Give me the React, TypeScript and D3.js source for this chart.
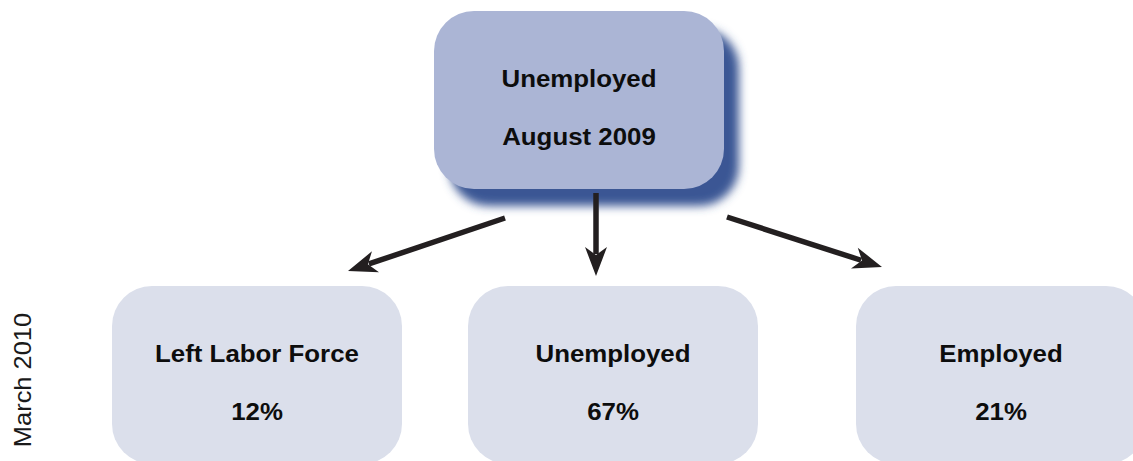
import React from "react";
import * as d3 from "d3";

// ---- data ----
const sourceLabel: string[] = ["Unemployed", "August 2009"];
const categories: string[] = ["Left Labor Force", "Unemployed", "Employed"];
const shares: number[] = [12, 67, 21];
const sideLabel = "March 2010";

// ---- layout ----
const W = 1133;
const H = 461;
const BOX_W = 290;
const BOX_H = 178;
const RADIUS = 40;
const topCenter = { x: 579, y: 100 };
const bottomCY = 375;
const xScale = d3.scaleOrdinal<string, number>().domain(categories).range([257, 613, 1001]);
const arrowTail = d3.scaleOrdinal<string, [number, number]>().domain(categories).range([[505, 218], [596, 193], [727, 217]]);
const arrowTip = d3.scaleOrdinal<string, [number, number]>().domain(categories).range([[348, 271], [596, 276], [882, 267]]);
const pct = d3.format(".0f");

const FONT = "'Liberation Sans', Arial, Helvetica, sans-serif";

function headPath(tail: [number, number], tip: [number, number]) {
  const ang = Math.atan2(tip[1] - tail[1], tip[0] - tail[0]);
  const L = 29, Wd = 11, notch = 21;
  const pts: [number, number][] = [
    [0, 0],
    [-L, -Wd],
    [-notch, 0],
    [-L, Wd],
  ];
  const c = Math.cos(ang), s = Math.sin(ang);
  const tr = pts.map(([px, py]) => [tip[0] + px * c - py * s, tip[1] + px * s + py * c]);
  return d3.line()(tr as [number, number][]) + "Z";
}

function shaft(tail: [number, number], tip: [number, number]): [number, number] {
  const ang = Math.atan2(tip[1] - tail[1], tip[0] - tail[0]);
  return [tip[0] - 22 * Math.cos(ang), tip[1] - 22 * Math.sin(ang)];
}

function BoxText({ cx, cy, lines }: { cx: number; cy: number; lines: string[] }) {
  return (
    <g>
      {lines.map((t, i) => (
        <text
          key={i}
          transform={`translate(${cx},${cy - 13 + i * 58}) scale(1.1,1)`}
          textAnchor="middle"
          fontFamily={FONT}
          fontWeight="bold"
          fontSize={23.5}
          fill="#0d0d0d"
        >
          {t}
        </text>
      ))}
    </g>
  );
}

export default function App() {
  return (
    <svg
      width={W}
      height={H}
      style={{ position: "absolute", left: 0, top: 0, display: "block", background: "#fff" }}
    >
      <defs>
        <filter id="blur" x="-20%" y="-20%" width="140%" height="160%">
          <feGaussianBlur stdDeviation={5} />
        </filter>
      </defs>

      {/* top box shadow */}
      <rect
        x={topCenter.x - BOX_W / 2 + 15}
        y={topCenter.y - BOX_H / 2 + 17}
        width={BOX_W}
        height={BOX_H}
        rx={RADIUS}
        fill="#3a5794"
        filter="url(#blur)"
      />
      <rect
        x={topCenter.x - BOX_W / 2}
        y={topCenter.y - BOX_H / 2}
        width={BOX_W}
        height={BOX_H}
        rx={RADIUS}
        fill="#abb5d5"
      />
      <BoxText cx={topCenter.x} cy={topCenter.y} lines={sourceLabel} />

      {/* arrows */}
      {categories.map((c) => {
        const tail = arrowTail(c);
        const tip = arrowTip(c);
        const end = shaft(tail, tip);
        return (
          <g key={c}>
            <line x1={tail[0]} y1={tail[1]} x2={end[0]} y2={end[1]} stroke="#231f20" strokeWidth={5.5} />
            <path d={headPath(tail, tip)} fill="#231f20" />
          </g>
        );
      })}

      {/* bottom boxes */}
      {categories.map((c, i) => (
        <g key={c}>
          <rect
            x={xScale(c) - BOX_W / 2}
            y={bottomCY - BOX_H / 2}
            width={BOX_W}
            height={BOX_H}
            rx={RADIUS}
            fill="#dbdfeb"
          />
          <BoxText cx={xScale(c)} cy={bottomCY} lines={[c, `${pct(shares[i])}%`]} />
        </g>
      ))}

      {/* side label */}
      <text
        transform={`translate(31,380) rotate(-90) scale(1.06,1)`}
        textAnchor="middle"
        fontFamily={FONT}
        fontSize={24}
        fill="#1a1a1a"
      >
        {sideLabel}
      </text>
    </svg>
  );
}
